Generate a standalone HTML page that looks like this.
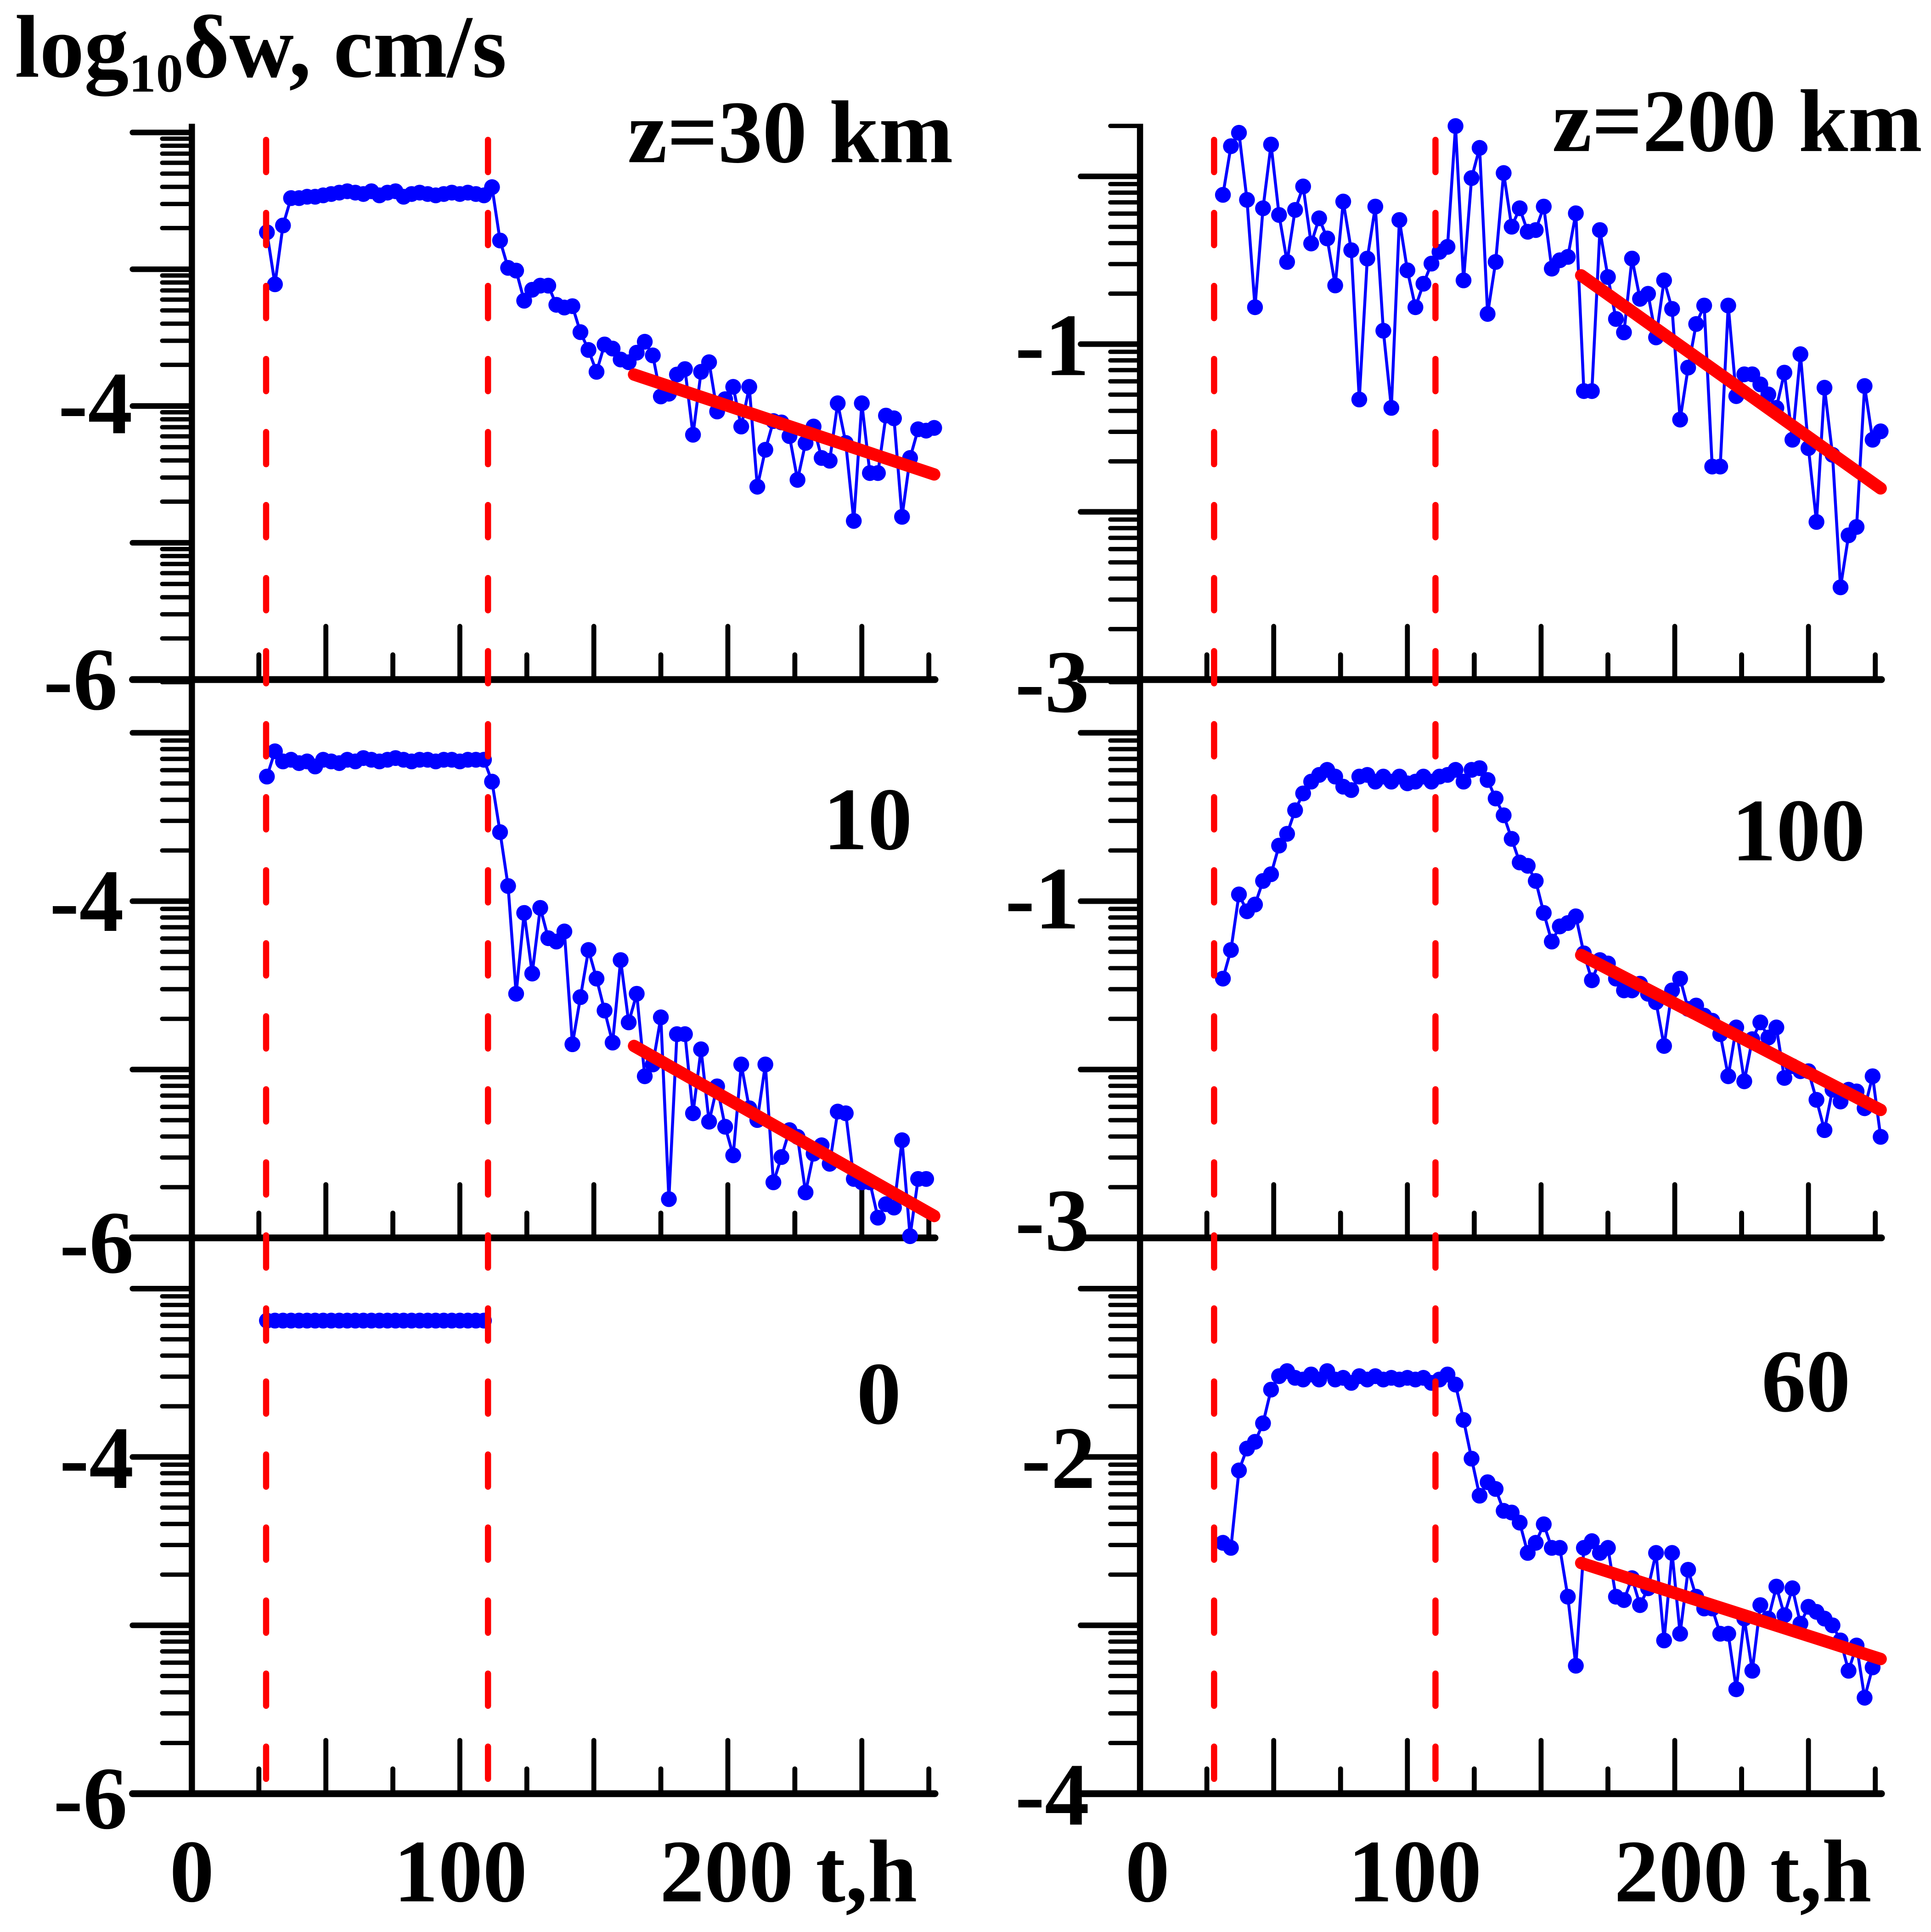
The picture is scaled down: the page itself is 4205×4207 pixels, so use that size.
<!DOCTYPE html>
<html><head><meta charset="utf-8"><style>
html,body{margin:0;padding:0;background:#fff;}
svg{display:block;}
text{font-family:"Liberation Serif",serif;font-weight:bold;fill:#000;}
</style></head><body>
<svg id="chart" width="4205" height="4207" viewBox="0 0 1560 1560.75" xmlns="http://www.w3.org/2000/svg">
<g id="axes"></g>
<g id="marks"></g>
<text x="12" y="62" font-size="72">log<tspan font-size="44" dy="12">10</tspan><tspan dy="-12">δw, cm/s</tspan></text>
<text x="770" y="131" font-size="72" text-anchor="end">z=30 km</text>
<text x="1553" y="122" font-size="72" text-anchor="end">z=200 km</text>
<text x="701" y="686" font-size="72" text-anchor="middle">10</text>
<text x="1453" y="695" font-size="72" text-anchor="middle">100</text>
<text x="710" y="1150" font-size="72" text-anchor="middle">0</text>
<text x="1459" y="1140" font-size="72" text-anchor="middle">60</text>
<g font-size="72">
<text x="155" y="1536" text-anchor="middle">0</text>
<text x="372" y="1536" text-anchor="middle">100</text>
<text x="533" y="1536">200 t,h</text>
<text x="927" y="1536" text-anchor="middle">0</text>
<text x="1143" y="1536" text-anchor="middle">100</text>
<text x="1304" y="1536">200 t,h</text>
</g>
<g font-size="72" text-anchor="end">
<text x="107" y="350">-4</text>
<text x="95" y="573">-6</text>
<text x="100" y="752">-4</text>
<text x="108" y="1028">-6</text>
<text x="108" y="1202">-4</text>
<text x="103" y="1477">-6</text>
<text x="880" y="303">-1</text>
<text x="880" y="575">-3</text>
<text x="872" y="750">-1</text>
<text x="880" y="1010">-3</text>
<text x="885" y="1202">-2</text>
<text x="880" y="1474">-4</text>
</g>
</svg>
<script>
const times=[28,31,34,37,40,43,46,49,52,55,58,61,64,67,70,73,76,79,82,85,88,91,94,97,100,103,106,109,112,115,118,121,124,127,130,133,136,139,142,145,148,151,154,157,160,163,166,169,172,175,178,181,184,187,190,193,196,199,202,205,208,211,214,217,220,223,226,229,232,235,238,241,244,247,250,253,256,259,262,265,268,271,274,277];
const tlVals=[-2.73,-3.11,-2.68,-2.48,-2.48,-2.47,-2.47,-2.46,-2.45,-2.44,-2.43,-2.44,-2.45,-2.43,-2.46,-2.44,-2.43,-2.47,-2.45,-2.44,-2.45,-2.46,-2.45,-2.44,-2.45,-2.44,-2.45,-2.46,-2.40,-2.79,-2.99,-3.01,-3.23,-3.15,-3.12,-3.12,-3.26,-3.28,-3.27,-3.46,-3.59,-3.75,-3.55,-3.58,-3.66,-3.68,-3.61,-3.53,-3.63,-3.93,-3.91,-3.77,-3.73,-4.21,-3.75,-3.68,-4.04,-3.95,-3.86,-4.15,-3.86,-4.59,-4.32,-4.11,-4.12,-4.22,-4.54,-4.27,-4.15,-4.38,-4.40,-3.98,-4.27,-4.84,-3.98,-4.49,-4.49,-4.07,-4.09,-4.81,-4.38,-4.17,-4.18,-4.16];
const mlVals=[-3.26,-3.11,-3.17,-3.16,-3.18,-3.17,-3.20,-3.16,-3.17,-3.18,-3.16,-3.17,-3.15,-3.16,-3.17,-3.16,-3.15,-3.16,-3.17,-3.16,-3.16,-3.17,-3.16,-3.16,-3.17,-3.16,-3.16,-3.16,-3.29,-3.59,-3.91,-4.55,-4.07,-4.43,-4.04,-4.22,-4.24,-4.18,-4.85,-4.57,-4.29,-4.46,-4.65,-4.84,-4.35,-4.72,-4.55,-5.04,-4.97,-4.69,-5.77,-4.79,-4.79,-5.26,-4.88,-5.31,-5.10,-5.34,-5.51,-4.97,-5.23,-5.30,-4.97,-5.67,-5.52,-5.36,-5.40,-5.73,-5.50,-5.45,-5.56,-5.25,-5.26,-5.65,-5.67,-5.67,-5.88,-5.80,-5.82,-5.42,-5.99,-5.65,-5.65];
const blVals=[-3.19,-3.19,-3.19,-3.19,-3.19,-3.19,-3.19,-3.19,-3.19,-3.19,-3.19,-3.19,-3.19,-3.19,-3.19,-3.19,-3.19,-3.19,-3.19,-3.19,-3.19,-3.19,-3.19,-3.19,-3.19,-3.19,-3.19,-3.19];
const trVals=[null,-0.11,0.18,0.26,-0.14,-0.78,-0.19,0.19,-0.23,-0.51,-0.20,-0.06,-0.40,-0.25,-0.37,-0.65,-0.15,-0.44,-1.33,-0.49,-0.18,-0.92,-1.38,-0.26,-0.56,-0.78,-0.64,-0.52,-0.45,-0.42,0.30,-0.62,-0.01,0.17,-0.82,-0.51,0.02,-0.30,-0.19,-0.33,-0.32,-0.18,-0.55,-0.50,-0.48,-0.22,-1.28,-1.28,-0.32,-0.60,-0.85,-0.93,-0.49,-0.73,-0.70,-0.96,-0.62,-0.79,-1.45,-1.14,-0.88,-0.77,-1.73,-1.73,-0.77,-1.31,-1.18,-1.18,-1.24,-1.30,-1.38,-1.17,-1.57,-1.06,-1.62,-2.06,-1.26,-1.66,-2.45,-2.14,-2.09,-1.25,-1.57,-1.52];
const mrVals=[null,-1.46,-1.29,-0.96,-1.06,-1.02,-0.88,-0.84,-0.67,-0.60,-0.46,-0.36,-0.29,-0.25,-0.22,-0.26,-0.32,-0.34,-0.26,-0.25,-0.29,-0.26,-0.29,-0.26,-0.30,-0.29,-0.26,-0.29,-0.26,-0.25,-0.22,-0.29,-0.22,-0.21,-0.28,-0.39,-0.49,-0.63,-0.77,-0.79,-0.88,-1.07,-1.24,-1.15,-1.13,-1.09,-1.31,-1.47,-1.35,-1.37,-1.46,-1.53,-1.53,-1.49,-1.55,-1.60,-1.86,-1.53,-1.46,-1.64,-1.62,-1.68,-1.71,-1.79,-2.04,-1.75,-2.07,-1.82,-1.72,-1.81,-1.75,-2.05,-1.98,-2.01,-2.01,-2.18,-2.36,-2.12,-2.19,-2.12,-2.13,-2.23,-2.04,-2.40];
const brVals=[null,-2.51,-2.54,-2.08,-1.95,-1.91,-1.80,-1.60,-1.52,-1.49,-1.53,-1.54,-1.51,-1.54,-1.49,-1.54,-1.53,-1.56,-1.52,-1.54,-1.52,-1.54,-1.53,-1.54,-1.53,-1.54,-1.53,-1.56,-1.54,-1.51,-1.57,-1.78,-2.01,-2.23,-2.15,-2.19,-2.32,-2.33,-2.39,-2.57,-2.51,-2.40,-2.54,-2.54,-2.83,-3.24,-2.54,-2.50,-2.57,-2.54,-2.83,-2.85,-2.72,-2.88,-2.78,-2.57,-3.09,-2.57,-3.05,-2.67,-2.83,-2.90,-2.90,-3.05,-3.05,-3.38,-2.96,-3.27,-2.88,-2.96,-2.77,-2.94,-2.78,-2.99,-2.89,-2.92,-2.96,-3.00,-3.09,-3.27,-3.12,-3.43,-3.25];
const fitTimes=[165,277];
const tlFit=[-3.77,-4.50];
const mlFit=[-4.86,-5.87];
const trFit=[-0.59,-1.86];
const mrFit=[-1.32,-2.24];
const brFit=[-2.63,-3.20];
const dashTimes=[27.7,110.5];
const xMajorTicks=[50,100,150,200,250];
const xMinorTicks=[25,75,125,175,225,275];

const NS='http://www.w3.org/2000/svg';
const axesG=document.getElementById('axes');
const marksG=document.getElementById('marks');
function mk(tag,attrs,parent){const e=document.createElementNS(NS,tag);for(const k in attrs)e.setAttribute(k,attrs[k]);parent.appendChild(e);return e;}

const panels=[
 {id:'tl',x0:155,xs:2.165,yB:549,vB:-6,ys:110.5,top:100,vals:tlVals,fit:tlFit},
 {id:'ml',x0:155,xs:2.165,yB:1000,vB:-6,ys:136,top:551,vals:mlVals,fit:mlFit},
 {id:'bl',x0:155,xs:2.165,yB:1449,vB:-6,ys:136,top:1002,vals:blVals,fit:null},
 {id:'tr',x0:921,xs:2.16,yB:549,vB:-3,ys:135.5,top:100,vals:trVals,fit:trFit},
 {id:'mr',x0:921,xs:2.16,yB:1000,vB:-3,ys:136,top:551,vals:mrVals,fit:mrFit},
 {id:'br',x0:921,xs:2.16,yB:1449,vB:-4,ys:136,top:1002,vals:brVals,fit:brFit}
];

panels.forEach(p=>{
 const X=t=>p.x0+t*p.xs;
 const Y=v=>p.yB-(v-p.vB)*p.ys;
 for(let k=p.vB;Y(k)>=p.top-8;k++){
  const l=mk('line',{x1:p.x0-48,x2:p.x0,y1:Y(k),y2:Y(k),stroke:'#000','stroke-width':4.5,'stroke-linecap':'round'},axesG);
  
  
  for(let m=2;m<=9;m++){
   const yy=Y(k+Math.log10(m));
   if(yy<p.top)continue;
   const s=mk('line',{x1:p.x0-24,x2:p.x0,y1:yy,y2:yy,stroke:'#000','stroke-width':3.5,'stroke-linecap':'round'},axesG);
   
   
  }
 }
 const xa=mk('line',{x1:p.x0-48,x2:X(275)+5,y1:p.yB,y2:p.yB,stroke:'#000','stroke-width':5.5,'stroke-linecap':'round'},axesG);
 
 
 xMajorTicks.forEach(t=>{const e=mk('line',{x1:X(t),x2:X(t),y1:p.yB,y2:p.yB-43,stroke:'#000','stroke-width':4,'stroke-linecap':'round'},axesG);
  
  });
 xMinorTicks.forEach(t=>{const e=mk('line',{x1:X(t),x2:X(t),y1:p.yB,y2:p.yB-20,stroke:'#000','stroke-width':4,'stroke-linecap':'round'},axesG);
  
  });
 const pts=[];
 p.vals.forEach((v,i)=>{if(v!==null&&i<times.length)pts.push([X(times[i]),Y(v)]);});
 const pl=mk('polyline',{points:pts.map(q=>q.join(',')).join(' '),fill:'none',stroke:'#0000ff','stroke-width':2.4,'stroke-linejoin':'round'},marksG);
 
 
 pts.forEach(q=>{const c=mk('circle',{cx:q[0],cy:q[1],r:6.4,fill:'#0000ff'},marksG);
  
  });
 if(p.fit){
  const f=mk('line',{x1:X(fitTimes[0]),y1:Y(p.fit[0]),x2:X(fitTimes[1]),y2:Y(p.fit[1]),stroke:'#ff0000','stroke-width':10,'stroke-linecap':'round'},marksG);
  
  
 }
});
[155,921].forEach(x=>{const a=mk('line',{x1:x,x2:x,y1:100,y2:1451,stroke:'#000','stroke-width':5},axesG);
 
 });
[[155,2.165],[921,2.16]].forEach(c=>{
 dashTimes.forEach(t=>{const d=mk('line',{x1:c[0]+t*c[1],x2:c[0]+t*c[1],y1:113,y2:1452,stroke:'#ff0000','stroke-width':5,'stroke-dasharray':'26 33','stroke-linecap':'round'},marksG);
  
  });
});
</script>
</body></html>
